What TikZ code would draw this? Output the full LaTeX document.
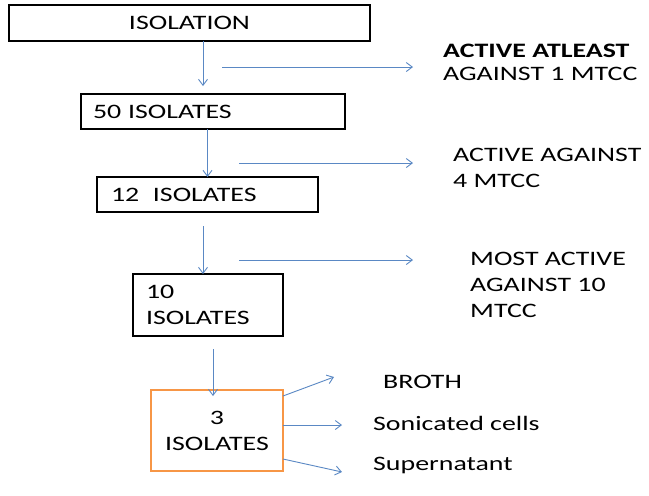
\documentclass[tikz,border=0pt]{standalone}
\usepackage{fontspec}
\setmainfont{Carlito}[FakeStretch=1.36]
\usetikzlibrary{arrows.meta,calc}
\definecolor{arrowblue}{HTML}{5A88C4}
\definecolor{boxorange}{HTML}{F79646}
\begin{document}
\begin{tikzpicture}[x=1pt,y=-1pt,
  every node/.style={font=\fontsize{20.5}{23}\selectfont},
  flowbox/.style={draw=black,line width=2.6pt,inner sep=0pt,outer sep=0pt},
  orangebox/.style={draw=boxorange,line width=2.8pt,inner sep=0pt,outer sep=0pt},
  link/.style={draw=arrowblue,line width=0.9pt,-{Straight Barb[length=6pt,width=9pt]}},
  txt/.style={inner sep=0pt,align=left}]
\useasboundingbox (0,0) rectangle (649,496);
\fill[white] (0,0) rectangle (649,496);

% boxes
\node[flowbox,minimum width=361pt,minimum height=36pt] (iso) at (189.5,23) {ISOLATION};
\node[flowbox,minimum width=264pt,minimum height=35pt,text width=240pt,align=left] (b50) at (213,111.5) {50 ISOLATES};
\node[flowbox,minimum width=221pt,minimum height=35pt,text width=193pt,align=left] (b12) at (207.5,194.5) {12~~ISOLATES};
\node[flowbox,minimum width=150pt,minimum height=62pt,text width=124pt,align=left,font=\fontsize{20.5}{26}\selectfont] (b10) at (208,305) {10\\ISOLATES};
\node[orangebox,minimum width=132pt,minimum height=81pt,align=center,font=\fontsize{20.5}{26}\selectfont] (b3) at (217,430.5) {3\\ISOLATES};

% right-hand texts
\node[txt,anchor=west,font=\fontsize{20.5}{23}\selectfont] (r1) at (443,62) {\textbf{ACTIVE ATLEAST}\\AGAINST 1 MTCC};
\node[txt,anchor=west,font=\fontsize{20.5}{26}\selectfont] (r2) at (453,167.5) {ACTIVE AGAINST\\4 MTCC};
\node[txt,anchor=west,font=\fontsize{20.5}{26}\selectfont] (r3) at (470,284.5) {MOST ACTIVE\\AGAINST 10\\MTCC};
\node[txt,anchor=base west] (broth) at (383,388) {BROTH};
\node[txt,anchor=base west] (sonic) at (373,430) {Sonicated cells};
\node[txt,anchor=base west] (super) at (373,470) {Supernatant};

% vertical connectors
\coordinate (t1) at (203,86);
\draw[link] (iso.south -| t1) -- (t1);
\draw[link] (b50.south -| b12.north) -- (b12.north);
\coordinate (s3) at (203,226);
\draw[link] (s3) -- (b10.north -| s3);
\coordinate (s4) at (213,349);
\draw[link] (s4) -- ($(b3.north -| s4)+(0,6)$);

% horizontal connectors
\coordinate (h1s) at (222,67);
\coordinate (h1e) at (413,67);
\draw[link] (h1s) -- (h1e);
\coordinate (h2s) at (239,163);
\coordinate (h2e) at (413,163);
\draw[link] (h2s) -- (h2e);
\coordinate (h3s) at (239,260);
\coordinate (h3e) at (413,260);
\draw[link] (h3s) -- (h3e);

% outputs of the 3 isolates
\coordinate (o1) at (334,377);
\coordinate (o2) at (342,425);
\coordinate (o3) at (342,472);
\draw[link] ($(b3.north east)+(0,6)$) -- (o1);
\draw[link] (b3.east |- o2) -- (o2);
\draw[link] ($(b3.south east)+(0,-12)$) -- (o3);
\end{tikzpicture}
\end{document}
